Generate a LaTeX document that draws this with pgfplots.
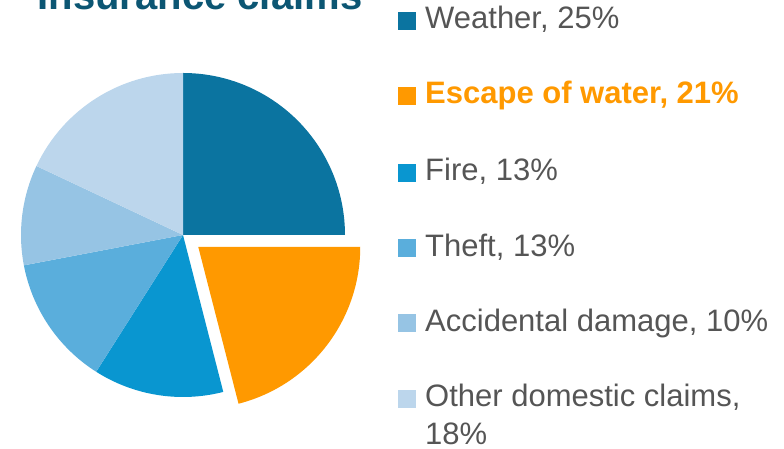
\documentclass[border=0pt]{standalone}
\usepackage{fontspec}
\setmainfont{Liberation Sans}
\usepackage{pgfplots}
\pgfplotsset{compat=1.18}
\definecolor{cWeather}{RGB}{11,116,160}
\definecolor{cWater}{RGB}{255,153,0}
\definecolor{cFire}{RGB}{9,150,208}
\definecolor{cTheft}{RGB}{90,174,220}
\definecolor{cAccid}{RGB}{150,196,228}
\definecolor{cOther}{RGB}{188,214,236}
\definecolor{txt}{RGB}{85,85,85}
\definecolor{titleblue}{RGB}{12,86,115}

% one pie slice: #1 share before it (%), #2 its share (%), #3 colour, #4 pull-out (pt)
\newcommand{\slice}[4]{%
  \fill[#3] ([shift={({90-3.6*(#1+#2/2)}:#4pt)}]axis cs:183,214)
    -- +({90-3.6*#1}:162pt)
    arc[start angle={90-3.6*#1}, delta angle={-3.6*#2}, radius=162pt] -- cycle;
}
\newcommand{\legkey}[3]{% colour, baseline y, text
  \fill[#1] (398,{449-#2-1}) rectangle (416,{449-#2+17});
  \node[anchor=base west, inner sep=0pt, text=txt] at (425,{449-#2}) {#3};
}

\begin{document}
\begin{tikzpicture}[x=1pt, y=1pt]
\path[use as bounding box] (0,0) rectangle (784,449);
\clip (0,0) rectangle (784,449);
\begin{axis}[
  at={(0,0)}, anchor=origin,
  x=1pt, y=1pt, xmin=0, xmax=784, ymin=0, ymax=449,
  hide axis, clip=false,
]
\slice{0}{25}{cWeather}{0}
\slice{25}{21}{cWater}{19.3}
\slice{46}{13}{cFire}{0}
\slice{59}{13}{cTheft}{0}
\slice{72}{10}{cAccid}{0}
\slice{82}{18}{cOther}{0}
\end{axis}

\node[anchor=base, inner sep=0pt, text=titleblue,
      font=\fontsize{40}{48}\selectfont\bfseries] at (200,439) {Insurance claims};

\begin{scope}[font=\fontsize{31}{38}\selectfont]
\legkey{cWeather}{29}{Weather, 25\%}
\legkey{cWater}{104}{\textcolor{cWater}{\bfseries Escape of water, 21\%}}
\legkey{cFire}{181}{Fire, 13\%}
\legkey{cTheft}{256.5}{Theft, 13\%}
\legkey{cAccid}{331.5}{Accidental damage, 10\%}
\legkey{cOther}{407}{Other domestic claims,}
\node[anchor=base west, inner sep=0pt, text=txt] at (425,{449-445}) {18\%};
\end{scope}
\end{tikzpicture}
\end{document}
